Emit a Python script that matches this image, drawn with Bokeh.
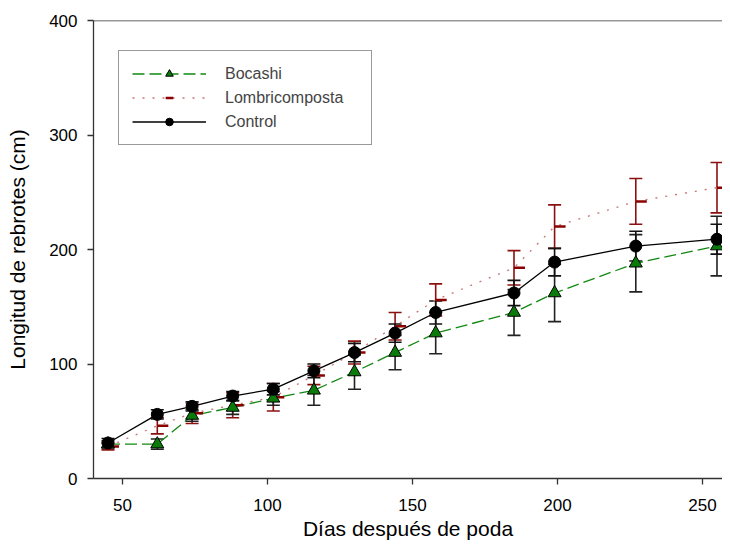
from bokeh.plotting import figure
from bokeh.models import ColumnDataSource, Whisker, TeeHead, Span, Legend, LegendItem, FixedTicker
from bokeh.transform import dodge
from bokeh.embed import file_html
from bokeh.resources import INLINE

# Data (days after pruning, shoot length in cm, error)
dias = [45, 62, 74, 88, 102, 116, 130, 144, 158, 185, 199, 227, 255]

bocashi = [30, 30, 55, 62, 70, 77, 93, 110, 127, 145, 162, 188, 203]
bocashi_err = [3, 4.5, 5, 6, 6, 13, 15, 15, 18, 20, 25, 25, 26]

lombri = [28, 46, 57, 64, 71, 90, 110, 133, 156, 184, 220, 242, 254]
lombri_err = [3, 7, 9, 11, 12, 8, 10, 12, 14, 15, 19, 20, 22]

control = [31, 56, 63, 72, 78, 94, 110, 127, 145, 162, 189, 203, 209]
control_err = [4, 4, 4, 4, 5, 6, 8, 8, 10, 11, 12, 13, 13]

xticks = [50, 100, 150, 200, 250]
yticks = [0, 100, 200, 300, 400]

FONT = "Liberation Sans"


def src(y, e):
    return ColumnDataSource(dict(
        x=dias, y=y,
        upper=[a + b for a, b in zip(y, e)],
        lower=[a - b for a, b in zip(y, e)],
    ))


s_b = src(bocashi, bocashi_err)
s_l = src(lombri, lombri_err)
s_c = src(control, control_err)

p = figure(width=722, height=542, x_range=(40, 256.9), y_range=(0, 400),
           output_backend="svg", toolbar_location=None,
           min_border_left=93, min_border_right=0, min_border_top=20, min_border_bottom=64)

p.xgrid.visible = False
p.ygrid.visible = False
p.outline_line_color = None
p.background_fill_color = "white"
p.border_fill_color = "white"

for ax in (p.xaxis[0], p.yaxis[0]):
    ax.axis_line_color = "#333333"
    ax.axis_line_width = 1.3
    ax.major_tick_line_color = "#333333"
    ax.major_tick_line_width = 1.3
    ax.major_tick_out = 6
    ax.major_tick_in = 0
    ax.minor_tick_line_color = None
    ax.major_label_text_font = FONT
    ax.major_label_text_font_size = "17px"
    ax.major_label_text_color = "black"
    ax.axis_label_text_font = FONT
    ax.axis_label_text_font_size = "21px"
    ax.axis_label_text_font_style = "normal"
    ax.axis_label_text_color = "black"

p.xaxis.ticker = FixedTicker(ticks=xticks)
p.yaxis.ticker = FixedTicker(ticks=yticks)
p.xaxis.axis_label = "Días después de poda"
p.yaxis.axis_label = "Longitud de rebrotes (cm)"
p.xaxis.major_label_standoff = 14
p.yaxis.major_label_standoff = 10
p.xaxis.axis_label_standoff = 3
p.yaxis.axis_label_standoff = 17

p.add_layout(Span(location=400, dimension="width", line_color="#333333", line_width=1.3))

# lines
l_line = p.line("x", "y", source=s_l, line_color="#c87474", line_width=1.3, line_dash="2 8")
b_line = p.line("x", "y", source=s_b, line_color="#118811", line_width=1.3, line_dash="12 5")
c_line = p.line("x", "y", source=s_c, line_color="black", line_width=1.3)

# error bars
def whisk(s, color):
    w = Whisker(source=s, base="x", upper="upper", lower="lower",
                line_color=color, line_width=1.6,
                upper_head=TeeHead(size=13, line_color=color, line_width=1.6),
                lower_head=TeeHead(size=13, line_color=color, line_width=1.6))
    p.add_layout(w)

whisk(s_l, "#8b1010")
whisk(s_b, "#222222")
whisk(s_c, "#111111")

# markers
l_mark = p.scatter(dodge("x", 1.9, range=p.x_range), "y", source=s_l, marker="dash",
                   size=11, line_color="#8b0000", line_width=2.5)
b_mark = p.scatter("x", "y", source=s_b, marker="triangle", size=13,
                   fill_color="#0a7a0a", line_color="black", line_width=1)
c_mark = p.scatter("x", "y", source=s_c, marker="circle", size=12,
                   fill_color="black", line_color="black")

legend = Legend(items=[
    LegendItem(label="Bocashi", renderers=[b_line, b_mark]),
    LegendItem(label="Lombricomposta", renderers=[l_line, l_mark]),
    LegendItem(label="Control", renderers=[c_line, c_mark]),
], location=(25, 333))
legend.border_line_color = "#333333"
legend.border_line_width = 1.3
legend.background_fill_color = "white"
legend.background_fill_alpha = 1
legend.glyph_width = 74
legend.glyph_height = 19
legend.label_height = 19
legend.label_standoff = 19
legend.padding = 13
legend.spacing = 5
legend.margin = 0
legend.label_text_font = FONT
legend.label_text_font_size = "16px"
legend.label_width = 133
p.add_layout(legend)

open("out.html", "w").write(file_html(p, INLINE))
